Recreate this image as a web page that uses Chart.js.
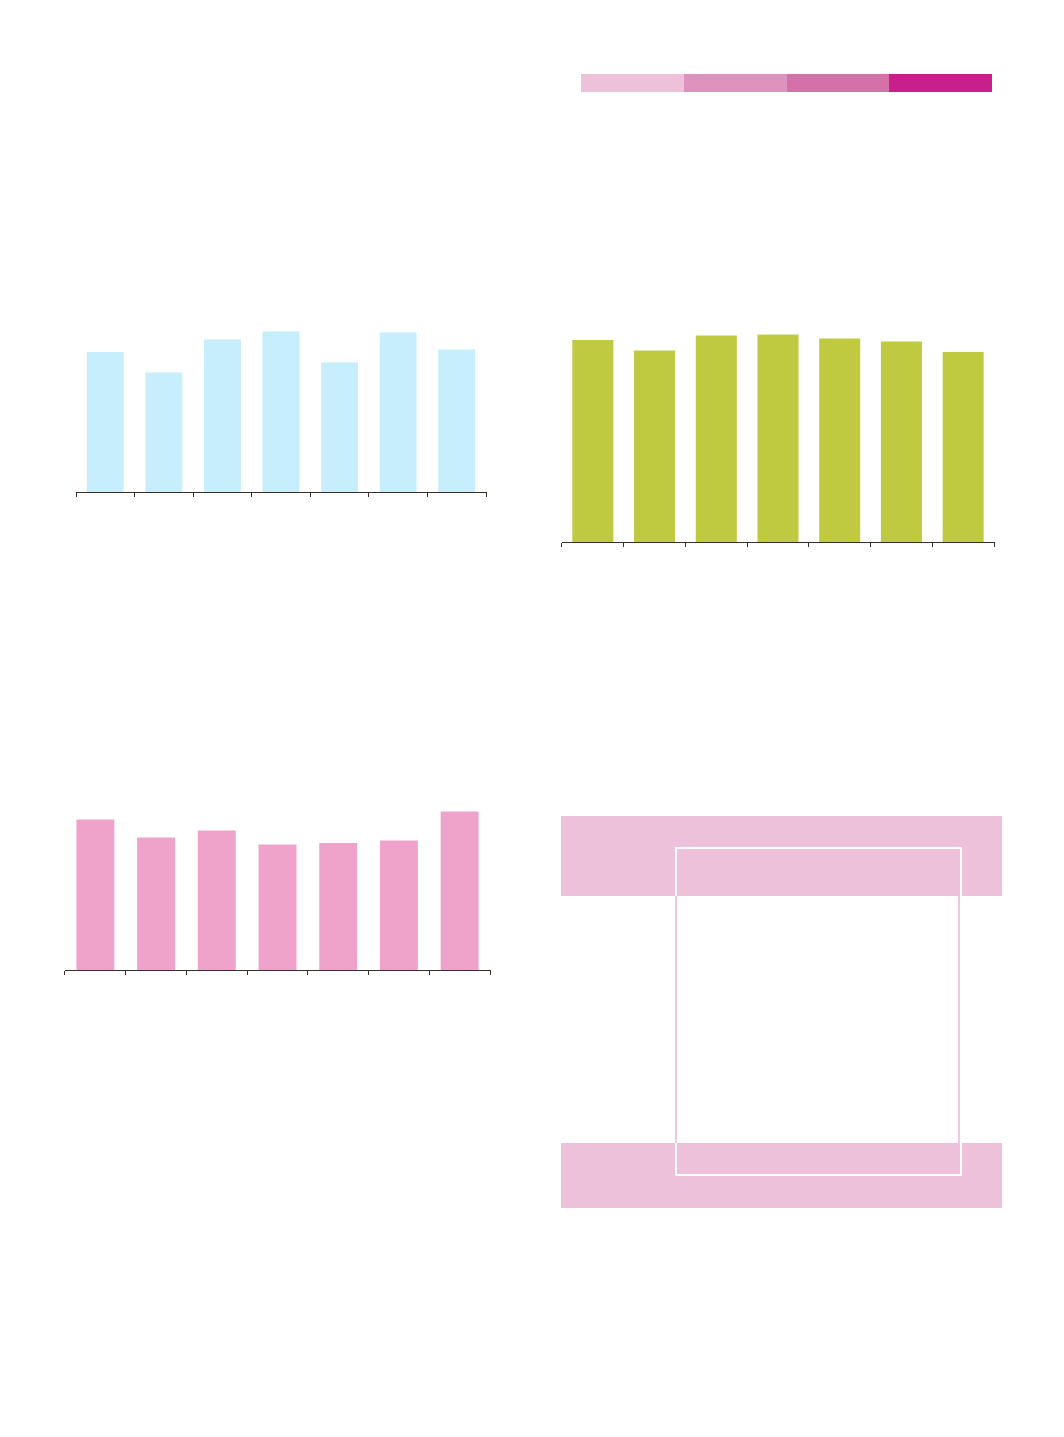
<!DOCTYPE html>
<html>
<head>
<meta charset="utf-8">
<script src="https://cdn.jsdelivr.net/npm/chart.js@4"></script>
<style>
  html, body { margin: 0; padding: 0; background: #ffffff; }
  body { width: 1064px; height: 1437px; position: relative; overflow: hidden; font-family: "Noto Sans", sans-serif; }
  .box { position: absolute; }
  .seg { position: absolute; top: 74px; height: 18px; }
  .band { position: absolute; left: 561px; width: 441px; background: #edc1d9; }
</style>
</head>
<body>
<!-- decorative colour strip -->
<div class="seg" style="left:581px;width:103px;background:#edc1d9"></div>
<div class="seg" style="left:684px;width:103px;background:#e092bf"></div>
<div class="seg" style="left:787px;width:102px;background:#d471a8"></div>
<div class="seg" style="left:889px;width:103px;background:#c91f8a"></div>

<div class="box" style="left:73px;top:292px;width:416px;height:206px"><canvas id="c1"></canvas></div>
<div class="box" style="left:559px;top:292px;width:438px;height:256px"><canvas id="c2"></canvas></div>
<div class="box" style="left:62px;top:770px;width:431px;height:206px"><canvas id="c3"></canvas></div>

<!-- decorative panel bottom right -->
<div class="band" style="top:816px;height:80px"></div>
<div class="band" style="top:1143px;height:65px"></div>
<div class="box" style="left:675px;top:847px;width:283px;height:325px;border:2px solid #ffffff"></div>
<div class="box" style="left:675px;top:896px;width:2px;height:247px;background:#f3c8de"></div>
<div class="box" style="left:958px;top:896px;width:2px;height:247px;background:#f3c8de"></div>

<script>
const categories = ['1', '2', '3', '4', '5', '6', '7'];
const blueValues  = [70.0, 59.7, 76.2, 80.3, 64.7, 79.7, 71.3];
const greenValues = [101.0, 95.8, 103.3, 103.8, 101.7, 100.2, 95.0];
const pinkValues  = [75.2, 66.2, 69.7, 62.7, 63.5, 64.7, 79.3];

function makeChart(id, values, color, yMax, barPct) {
  new Chart(document.getElementById(id), {
    type: 'bar',
    data: {
      labels: categories,
      datasets: [{
        data: values,
        backgroundColor: color,
        borderWidth: 0,
        barPercentage: barPct,
        categoryPercentage: 1
      }]
    },
    options: {
      responsive: true,
      maintainAspectRatio: false,
      animation: false,
      layout: { padding: { left: 3, right: 3, top: 0, bottom: 1 } },
      plugins: { legend: { display: false }, tooltip: { enabled: false }, title: { display: false } },
      scales: {
        x: {
          offset: true,
          ticks: { display: false },
          grid: { display: true, drawOnChartArea: false, drawTicks: true, tickLength: 5, color: '#3b2f2a', lineWidth: 1, offset: true },
          border: { display: true, color: '#3b2f2a', width: 1 }
        },
        y: { display: false, min: 0, max: yMax }
      }
    }
  });
}

makeChart('c1', blueValues, '#c6eefd', 100, 0.63);
makeChart('c2', greenValues, '#bfca40', 125, 0.665);
makeChart('c3', pinkValues, '#f0a3ca', 100, 0.625);
</script>
</body>
</html>
